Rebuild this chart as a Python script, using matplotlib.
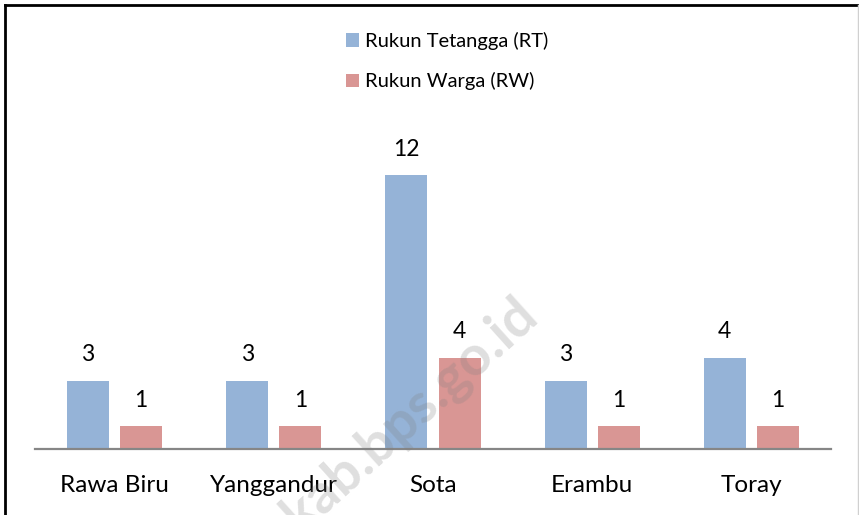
import numpy as np
import matplotlib.pyplot as plt
from matplotlib.lines import Line2D

# data
categories = ["Rawa Biru", "Yanggandur", "Sota", "Erambu", "Toray"]
rt_values = [3, 3, 12, 3, 4]
rw_values = [1, 1, 4, 1, 1]
series_names = ["Rukun Tetangga (RT)", "Rukun Warga (RW)"]

RT_COLOR = "#95B3D7"
RW_COLOR = "#D99694"
FONT = ["Lato", "DejaVu Sans"]

W, H = 859, 515
fig = plt.figure(figsize=(W / 100, H / 100), dpi=100)
ax = fig.add_axes([35 / W, 66 / H, (831 - 35) / W, 308 / H])

x = np.arange(len(categories))
bw = 0.264
off = 0.167
b1 = ax.bar(x - off, rt_values, bw, color=RT_COLOR, label=series_names[0])
b2 = ax.bar(x + off, rw_values, bw, color=RW_COLOR, label=series_names[1])

for bars in (b1, b2):
    for rect in bars:
        h = rect.get_height()
        ax.annotate(f"{h:g}", (rect.get_x() + rect.get_width() / 2, h),
                    xytext=(0, 11), textcoords="offset points",
                    ha="center", va="bottom", fontsize=16.5, family=FONT)

ax.set_xlim(-0.5, len(categories) - 0.5)
ax.set_ylim(0, 13.5)
ax.set_xticks(x)
ax.set_xticklabels(categories, fontsize=17.5, family=FONT)
ax.tick_params(axis="x", length=0, pad=19)
ax.set_yticks([])
for s in ["top", "right", "left"]:
    ax.spines[s].set_visible(False)
ax.spines["bottom"].set_color("#868686")
ax.spines["bottom"].set_linewidth(1.6)

leg = fig.legend(loc="upper left", bbox_to_anchor=(328 / W, 1 - 14 / H),
                 frameon=False, prop={"family": FONT, "size": 14.5},
                 handlelength=0.65, handleheight=0.65, handletextpad=0.3,
                 labelspacing=1.1)

# watermark
fig.text(540 / W, 1 - 318 / H, "kab.bps.go.id", rotation=42,
         rotation_mode="anchor", ha="right", va="baseline",
         fontsize=40, fontweight="bold", family=FONT,
         color="gray", alpha=0.25, zorder=0)

# frame around the chart
fig.add_artist(Line2D([5 / W, 5 / W], [0, 1 - 5 / H], color="black", lw=2))
fig.add_artist(Line2D([5 / W, 1], [1 - 5 / H, 1 - 5 / H], color="black", lw=2))
fig.add_artist(Line2D([858 / W, 858 / W], [0, 1 - 5 / H], color="#d0d0d0", lw=1))

fig.savefig("out.png", dpi=100)
